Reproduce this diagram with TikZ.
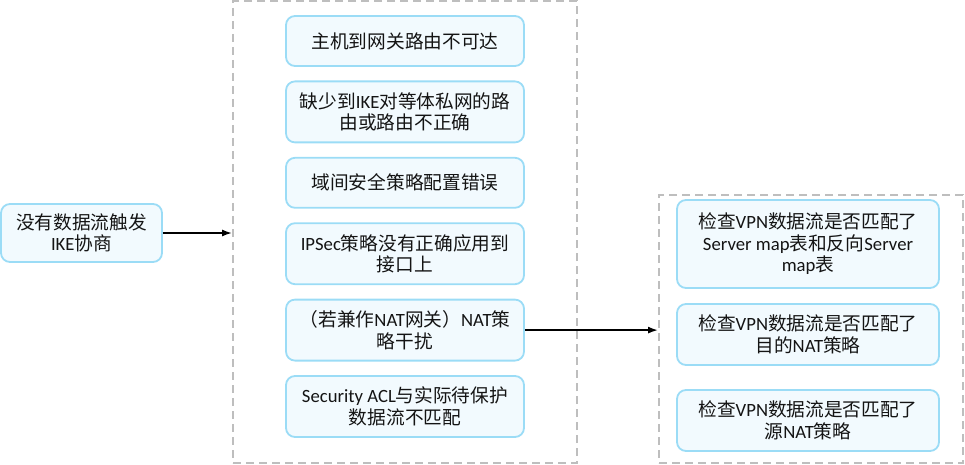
\documentclass[tikz,border=0pt]{standalone}
\usepackage{fontspec}
\setmainfont{Noto Sans CJK SC}
\newfontfamily\latfont{Carlito}
\usetikzlibrary{arrows.meta, positioning}
\definecolor{boxfill}{RGB}{242,250,254}
\definecolor{boxline}{RGB}{155,220,246}
\definecolor{groupline}{RGB}{190,190,190}
\definecolor{textcolor}{RGB}{20,20,20}
\tikzset{
    cause/.style={rectangle, draw=boxline, fill=boxfill, rounded corners=9pt, line width=1.8pt,
        minimum width=238pt, minimum height=61pt, align=center, text=textcolor,
        font=\fontsize{18.7}{21.5}\selectfont, inner sep=2pt},
    short/.style={minimum height=50pt},
    check/.style={cause, minimum width=262pt},
    group/.style={rectangle, draw=groupline, line width=1.8pt, dash pattern=on 8pt off 5pt},
    arrow/.style={-{Latex[length=10pt,width=7pt]}, line width=1.8pt}
}
\newcommand{\eng}[1]{{\latfont #1}}

\begin{document}
\begin{tikzpicture}[x=1pt, y=1pt, node distance=13.6pt]
    \useasboundingbox (0,0) rectangle (965,-465);

    % containers
    \node[group, minimum width=344pt, minimum height=462pt] (midgroup) at (405,-232) {};
    \node[group, minimum width=304pt, minimum height=268pt] (natgroup) at (811,-329) {};

    \node[cause, minimum width=161pt, minimum height=58pt] (start) at (81.5,-233) {没有数据流触发\\\eng{IKE}协商};

    % possible causes
    \node[cause, short] (route) at (405,-41) {主机到网关路由不可达};
    \node[cause, below=of route] (ikeroute) {缺少到\eng{IKE}对等体私网的路\\由或路由不正确};
    \node[cause, short, below=of ikeroute] (policy) {域间安全策略配置错误};
    \node[cause, below=of policy] (ipsec) {\eng{IPSec}策略没有正确应用到\\接口上};
    \node[cause, below=of ipsec] (nat) {（若兼作\eng{NAT}网关）\eng{NAT}策\\略干扰};
    \node[cause, below=of nat] (acl) {\eng{Security ACL}与实际待保护\\数据流不匹配};

    % NAT checks
    \node[check, minimum height=88pt] (servermap) at (808,-244) {检查\eng{VPN}数据流是否匹配了\\\eng{Server map}表和反向\eng{Server}\\\eng{map}表};
    \node[check, below=14.2pt of servermap] (dnat) {检查\eng{VPN}数据流是否匹配了\\目的\eng{NAT}策略};
    \node[check, below=23.2pt of dnat] (snat) {检查\eng{VPN}数据流是否匹配了\\源\eng{NAT}策略};

    \draw[arrow] (start.east) -- (start.east -| midgroup.west);
    \draw[arrow] (nat.east) -- (nat.east -| natgroup.west);

\end{tikzpicture}
\end{document}
